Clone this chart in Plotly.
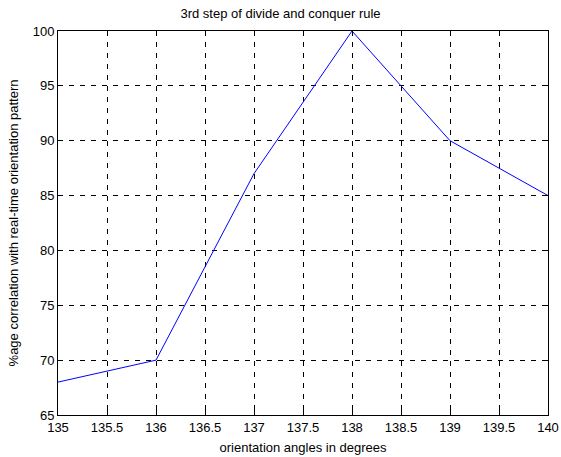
import plotly.graph_objects as go

angles = [135, 136, 137, 138, 139, 140]
correlation = [68, 70, 87, 100, 90, 85]
x_ticks = [135, 135.5, 136, 136.5, 137, 137.5, 138, 138.5, 139, 139.5, 140]
y_ticks = [65, 70, 75, 80, 85, 90, 95, 100]

fig = go.Figure()
fig.add_trace(go.Scatter(x=angles, y=correlation, mode="lines",
                         line=dict(color="#0000ff", width=1)))

axis_common = dict(
    showgrid=True, gridcolor="black", griddash="5px,6px", gridwidth=1,
    showline=True, linecolor="black", linewidth=1, mirror="ticks",
    ticks="inside", ticklen=5, tickcolor="black",
    zeroline=False, tickfont=dict(size=13, color="black"),
    automargin=False,
)
fig.update_xaxes(range=[135, 140], tickvals=x_ticks,
                 ticktext=[f"{v:g}" for v in x_ticks],
                 title=dict(text="orientation angles in degrees", font=dict(size=13, color="black"), standoff=9),
                 **axis_common)
fig.update_yaxes(range=[65, 100], tickvals=y_ticks,
                 title=dict(text="%age correlation with real-time orientation pattern", font=dict(size=13, color="black"), standoff=11),
                 **axis_common)
fig.update_layout(
    width=561, height=457,
    margin=dict(l=58, r=13, t=31, b=42),
    paper_bgcolor="white", plot_bgcolor="white",
    font=dict(family="Liberation Sans, Arial, sans-serif", size=13, color="black"),
    title=dict(text="3rd step of divide and conquer rule", x=0.5, xanchor="center",
               y=1 - 13/457, yanchor="middle", font=dict(size=13, color="black")),
    showlegend=False,
)
fig.write_html("out.html", config={"displayModeBar": False},
               post_script="document.body.style.margin='0';document.body.style.overflow='hidden';")
